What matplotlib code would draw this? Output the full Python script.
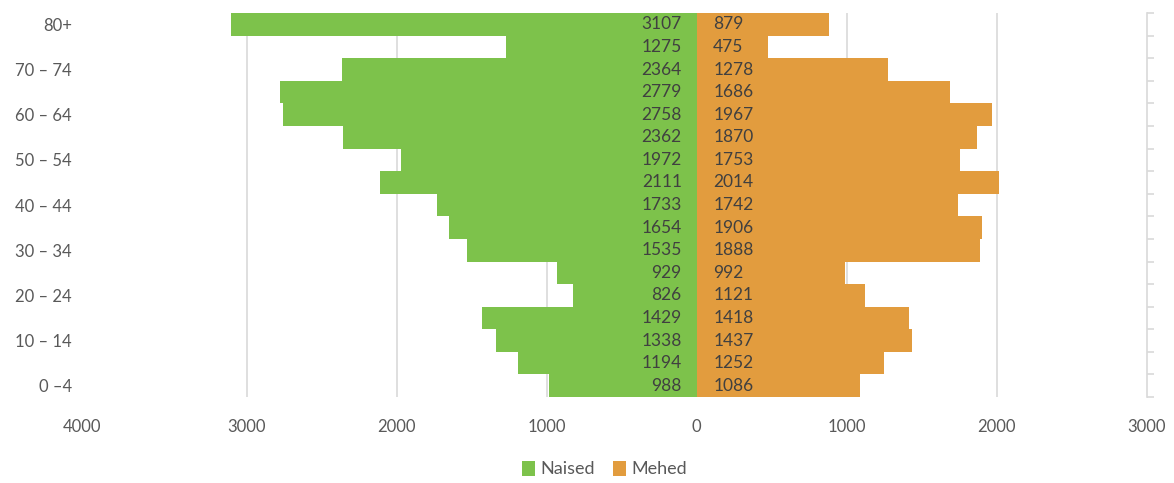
import matplotlib
matplotlib.use('Agg')
import matplotlib.pyplot as plt
from matplotlib.ticker import FuncFormatter
import numpy as np

plt.rcParams['font.family'] = ['Lato', 'DejaVu Sans']

# age groups, bottom to top
age_groups = ['0 –4', '5 – 9', '10 – 14', '15 – 19', '20 – 24', '25 – 29', '30 – 34',
              '35 – 39', '40 – 44', '45 – 49', '50 – 54', '55 – 59', '60 – 64',
              '65 – 69', '70 – 74', '75 – 79', '80+']
naised = [988, 1194, 1338, 1429, 826, 929, 1535, 1654, 1733, 2111, 1972,
          2362, 2758, 2779, 2364, 1275, 3107]
mehed = [1086, 1252, 1437, 1418, 1121, 992, 1888, 1906, 1742, 2014, 1753,
         1870, 1967, 1686, 1278, 475, 879]

green = '#7DC24B'
orange = '#E29C3E'
txt = '#404040'
lbl = '#595959'
grid = '#D9D9D9'

ind = np.arange(len(age_groups))

fig = plt.figure(figsize=(11.74, 4.83), dpi=100)
ax = fig.add_axes([0.0826, 0.178, 0.894, 0.795])

ax.barh(ind, -np.array(naised), height=1.0, color=green, label='Naised', zorder=2)
ax.barh(ind, mehed, height=1.0, color=orange, label='Mehed', zorder=2)

for i in ind:
    ax.text(-100, i, str(naised[i]), ha='right', va='center', fontsize=12.5, color=txt, zorder=3)
    ax.text(110, i, str(mehed[i]), ha='left', va='center', fontsize=12.5, color=txt, zorder=3)

ax.set_xlim(-4000, 3000)
ax.set_ylim(-0.5, len(age_groups) - 0.5)
ax.set_xticks(np.arange(-4000, 3001, 1000))
ax.xaxis.set_major_formatter(FuncFormatter(lambda v, p: '' if v == -4000 else '%d' % abs(v)))
ax.set_yticks(ind[::2])
ax.set_yticklabels(age_groups[::2])
ax.tick_params(axis='both', length=0, labelsize=12, labelcolor=lbl)
ax.tick_params(axis='x', pad=16)
ax.tick_params(axis='y', pad=18)

# leftmost label sits a bit left of the axis edge, as in the original
ax.annotate('4000', xy=(-4100, 0), xycoords=('data', 'axes fraction'),
            xytext=(0, -16), textcoords='offset points', ha='center', va='top',
            fontsize=12, color=lbl, annotation_clip=False)

for g in range(-3000, 3000, 1000):
    ax.axvline(g, color=grid, linewidth=1.2, zorder=0)
for s in ['top', 'left', 'bottom']:
    ax.spines[s].set_visible(False)
ax.spines['right'].set_color(grid)
ax.spines['right'].set_linewidth(1.2)

# boundary ticks on right axis
ax2 = ax.twinx()
ax2.set_ylim(ax.get_ylim())
ax2.set_yticks(np.arange(-0.5, len(age_groups), 1.0))
ax2.tick_params(axis='y', length=5, width=1.2, color=grid, labelright=False)
for s in ax2.spines.values():
    s.set_visible(False)

fig.legend(loc='lower center', ncol=2, frameon=False, fontsize=13,
           handlelength=0.7, handleheight=0.9, handletextpad=0.3, columnspacing=1.0,
           labelcolor=lbl, bbox_to_anchor=(0.515, -0.022))

fig.savefig('out.png', dpi=100)
